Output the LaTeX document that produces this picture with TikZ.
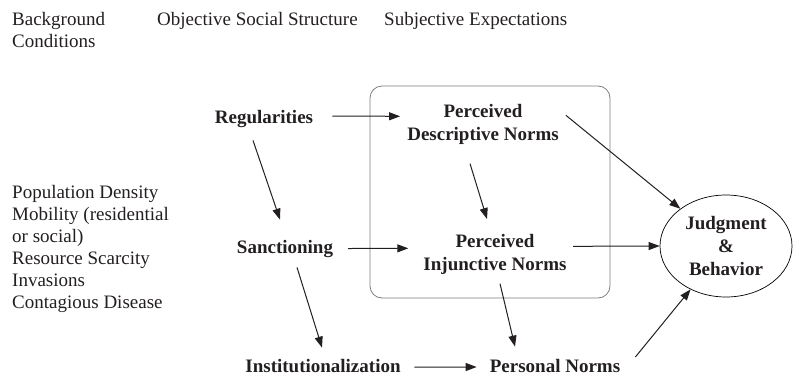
\documentclass[tikz,border=0pt]{standalone}
\usepackage{fontspec}
\setmainfont{Liberation Serif}
\usepackage{tikz}
\usetikzlibrary{arrows.meta,positioning,calc,shapes.geometric}
\definecolor{inkgray}{RGB}{35,31,32}
\definecolor{framegray}{RGB}{125,125,125}

\begin{document}
\begin{tikzpicture}[x=1pt,y=-1pt,
    every node/.style={inner sep=0pt, text=inkgray},
    plain/.style={font=\fontsize{19}{22}\selectfont, align=left, anchor=north west},
    concept/.style={font=\fontsize{19}{23}\selectfont\bfseries, align=center},
    link/.style={draw=inkgray, line width=1pt, -{Triangle[length=11pt,width=8pt]}}]
    \useasboundingbox (0,0) rectangle (794,378);
    % column heads and background list
    \node[plain] (bg)   at (12,12)  {Background\\Conditions};
    \node[plain] (obj)  at (157,12) {Objective Social Structure};
    \node[plain] (subj) at (384,12) {Subjective Expectations};
    \node[plain] (cond) at (12,185) {Population Density\\Mobility (residential\\or social)\\Resource Scarcity\\Invasions\\Contagious Disease};
    % frame round the perceived norms
    \draw[framegray, line width=0.8pt, rounded corners=12pt] (370,86) rectangle (610,298);
    \node[concept, anchor=base]  (reg)  at (264,123) {Regularities};
    \node[concept, anchor=base]  (sanc) at (285,253) {Sanctioning};
    \node[concept, anchor=base]  (inst) at (323,372) {Institutionalization};
    \node[concept, anchor=north] (pdn)  at (483,104) {Perceived\\Descriptive Norms};
    \node[concept, anchor=north] (pin)  at (495,234) {Perceived\\Injunctive Norms};
    \node[concept, anchor=base]  (pn)   at (555,372) {Personal Norms};
    \node[concept, ellipse, draw=black, line width=0.7pt, minimum width=132pt, minimum height=102pt]
        (jb) at (726,246) {Judgment\\\&\\Behavior};
    % connectors
    \draw[link] ($(reg.east)+(19,-2.5)$) -- ($(pdn.west)+(-7,-8)$);
    \draw[link] ($(reg.south)+(-11,13)$) -- ($(sanc.north)+(-5,-20)$);
    \draw[link] ($(sanc.south)+(12,10)$) -- ($(inst.north)+(-1,-11)$);
    \draw[link] ($(sanc.east)+(15,0)$) -- ($(pin.west)+(-15,-6)$);
    \draw[link] ($(pdn.south)+(-13,19)$) -- ($(pin.north)+(-8,-15)$);
    \draw[link] ($(pdn.east)+(7,-9)$) -- (jb);
    \draw[link] ($(pin.east)+(6.5,-8)$) -- (jb.west);
    \draw[link] ($(pin.south)+(5,9)$) -- ($(pn.north)+(-40,-12)$);
    \draw[link] ($(inst.east)+(13.5,1.5)$) -- ($(pn.west)+(-13,1.5)$);
    \draw[link] ($(pn.east)+(15,-8.5)$) -- (jb);
\end{tikzpicture}
\end{document}
